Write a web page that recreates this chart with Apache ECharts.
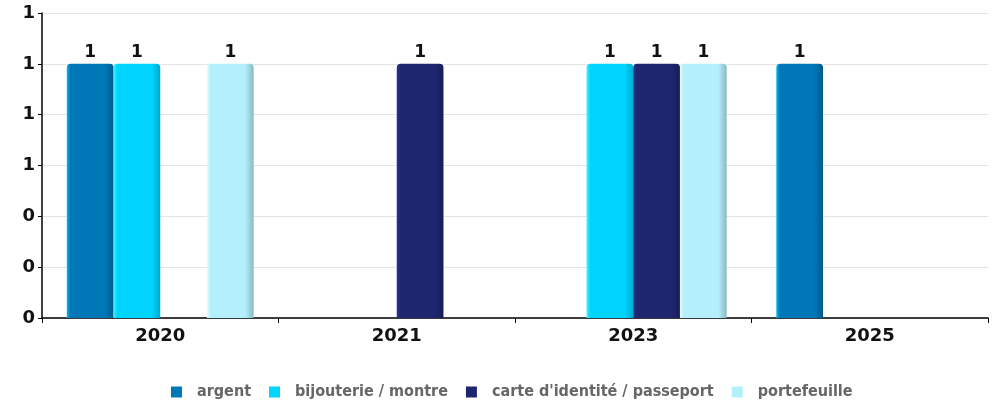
<!DOCTYPE html>
<html>
<head>
<meta charset="utf-8">
<script src="https://cdn.jsdelivr.net/npm/echarts@6/dist/echarts.min.js"></script>
<style>html,body{margin:0;padding:0;background:#fff}#c{width:994px;height:404px}</style>
</head>
<body>
<div id="c"></div>
<script>
var categories = ['2020', '2021', '2023', '2025'];
var seriesNames = ['argent', 'bijouterie / montre', "carte d'identité / passeport", 'portefeuille'];
var argent = [1, null, null, 1];
var bijouterie = [1, null, 1, null];
var carte = [null, 1, 1, null];
var portefeuille = [1, null, 1, null];
var seriesValues = [argent, bijouterie, carte, portefeuille];
var baseColors = ['#0077b6', '#00d4ff', '#1f2670', '#b3f0fb'];
var lightColors = ['#00b4f0', '#3ff4ff', '#2a3290', '#e6fcff'];
var darkColors = ['#005a8a', '#00a8cc', '#161c55', '#8ab8c2'];

function grad(i) {
  return new echarts.graphic.LinearGradient(0, 0, 1, 0, [
    {offset: 0, color: lightColors[i]},
    {offset: 0.08, color: baseColors[i]},
    {offset: 0.82, color: baseColors[i]},
    {offset: 1, color: darkColors[i]}
  ]);
}

var chart = echarts.init(document.getElementById('c'));
chart.setOption({
  animation: false,
  grid: {left: 42, right: 6, top: 13, bottom: 86},
  legend: {
    left: 166,
    bottom: -1,
    itemWidth: 11, itemHeight: 11, itemGap: 18,
    icon: 'rect',
    textStyle: {fontFamily: 'DejaVu Sans Condensed', fontWeight: 'bold', fontSize: 16, color: '#666', padding: [0, 0, 0, 10]},
    data: seriesNames.map(function (n, i) { return {name: n, itemStyle: {color: baseColors[i]}}; })
  },
  xAxis: {
    type: 'category',
    data: categories,
    axisLine: {lineStyle: {color: '#000', width: 1.5}},
    axisTick: {show: true, length: 5, lineStyle: {color: '#000'}},
    axisLabel: {fontFamily: 'DejaVu Sans', fontWeight: 'bold', fontSize: 18, color: '#111', margin: 9},
    splitLine: {show: false}
  },
  yAxis: {
    type: 'value',
    min: 0, max: 1.2, interval: 0.2,
    axisLine: {show: true, lineStyle: {color: '#000', width: 1.5}},
    axisTick: {show: true, length: 4, lineStyle: {color: '#000'}},
    axisLabel: {
      fontFamily: 'DejaVu Sans', fontWeight: 'bold', fontSize: 18, color: '#111', margin: 7,
      formatter: function (v) { return String(Math.round(v)); }
    },
    splitLine: {lineStyle: {color: '#e4e4e4'}}
  },
  series: seriesValues.map(function (vals, i) {
    return {
      name: seriesNames[i],
      type: 'bar',
      data: vals,
      barGap: '0%',
      barCategoryGap: '21%',
      itemStyle: {color: grad(i), borderRadius: [4, 4, 0, 0]},
      label: {
        show: true, position: 'top', distance: 3,
        fontFamily: 'DejaVu Sans', fontWeight: 'bold', fontSize: 17, color: '#111'
      }
    };
  })
});
</script>
</body>
</html>
